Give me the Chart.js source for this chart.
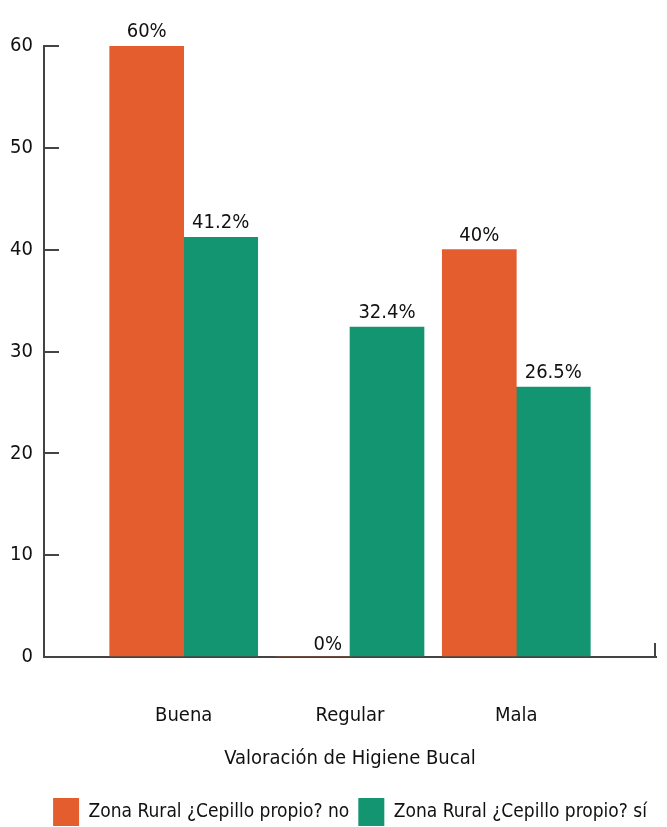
<!DOCTYPE html>
<html>
<head>
<meta charset="utf-8">
<script src="https://cdn.jsdelivr.net/npm/chart.js@4.4.1/dist/chart.umd.min.js"></script>
<style>
  html, body { margin: 0; padding: 0; background: #fff; }
</style>
</head>
<body>
<canvas id="higieneChart" width="667" height="827"></canvas>
<script>
// data
const categories = ['Buena', 'Regular', 'Mala'];
const seriesNames = ['Zona Rural ¿Cepillo propio? no', 'Zona Rural ¿Cepillo propio? sí'];
const cepilloNo = [60, 0, 40];
const cepilloSi = [41.2, 32.4, 26.5];
const yTicks = [0, 10, 20, 30, 40, 50, 60];
const axisTitle = 'Valoración de Higiene Bucal';

const fontFamily = "'Liberation Sans Narrow', 'DejaVu Sans Condensed', sans-serif";
const xMin = -0.84, xMax = 2.84;

function toPoints(values) {
  return values.map((v, i) => ({ x: i, y: v }));
}

// percent labels on top of the bars
const barLabels = {
  id: 'barLabels',
  afterDatasetsDraw(chart) {
    const ctx = chart.ctx;
    ctx.save();
    ctx.font = '20px ' + fontFamily;
    ctx.fillStyle = '#111';
    ctx.textBaseline = 'alphabetic';
    chart.data.datasets.forEach((ds, di) => {
      chart.getDatasetMeta(di).data.forEach((bar, i) => {
        const v = ds.data[i].y;
        if (v === 0) {
          ctx.textAlign = 'right';
          ctx.fillText(v + '%', bar.x + 29, bar.y - 7);
        } else {
          ctx.textAlign = 'center';
          ctx.fillText(v + '%', bar.x, bar.y - 9);
        }
      });
    });
    ctx.restore();
  }
};

// small closing tick at the right end of the x axis
const axisEnd = {
  id: 'axisEnd',
  afterDraw(chart) {
    const ctx = chart.ctx;
    const a = chart.chartArea;
    ctx.save();
    ctx.strokeStyle = '#444';
    ctx.lineWidth = 2;
    ctx.beginPath();
    ctx.moveTo(a.right - 1, a.bottom);
    ctx.lineTo(a.right - 1, a.bottom - 14);
    ctx.stroke();
    ctx.restore();
  }
};

Chart.defaults.font.family = fontFamily;
Chart.defaults.font.size = 20;
Chart.defaults.color = '#111';

new Chart(document.getElementById('higieneChart').getContext('2d'), {
  type: 'bar',
  data: {
    datasets: [{
      label: seriesNames[0],
      data: toPoints(cepilloNo),
      backgroundColor: '#E35D2E',
      barThickness: 74
    }, {
      label: seriesNames[1],
      data: toPoints(cepilloSi),
      backgroundColor: '#149571',
      barThickness: 74
    }]
  },
  plugins: [barLabels, axisEnd],
  options: {
    responsive: false,
    devicePixelRatio: 1,
    animation: false,
    events: [],
    layout: {
      padding: { top: 46, right: 11, bottom: -9, left: 44 }
    },
    plugins: {
      tooltip: { enabled: false },
      legend: {
        position: 'bottom',
        labels: {
          boxWidth: 26,
          boxHeight: 28,
          padding: 9,
          color: '#111',
          font: { size: 19 }
        }
      }
    },
    scales: {
      x: {
        type: 'linear',
        offset: false,
        min: xMin,
        max: xMax,
        afterBuildTicks: (scale) => {
          scale.ticks = [0, 1, 2].map(v => ({ value: v }));
        },
        afterFit: (scale) => { scale.height = 132; },
        grid: {
          offset: false,
          display: false
        },
        border: { display: true, color: '#444', width: 2 },
        ticks: {
          autoSkip: false,
          maxRotation: 0,
          padding: 39,
          color: '#111',
          font: { size: 20 },
          callback: (v) => categories[v]
        },
        title: {
          display: true,
          text: axisTitle,
          color: '#111',
          font: { size: 20 },
          padding: { top: 0, bottom: 18 }
        }
      },
      y: {
        min: 0,
        max: 60,
        afterBuildTicks: (scale) => {
          scale.ticks = yTicks.map(v => ({ value: v }));
        },
        afterFit: (scale) => { scale.width = 0; },
        grid: {
          drawOnChartArea: false,
          tickLength: -15,
          lineWidth: 2,
          color: '#444'
        },
        border: { display: true, color: '#444', width: 2 },
        ticks: {
          mirror: true,
          crossAlign: 'far',
          padding: -34,
          color: '#111',
          font: { size: 20 }
        }
      }
    }
  }
});
</script>
</body>
</html>
